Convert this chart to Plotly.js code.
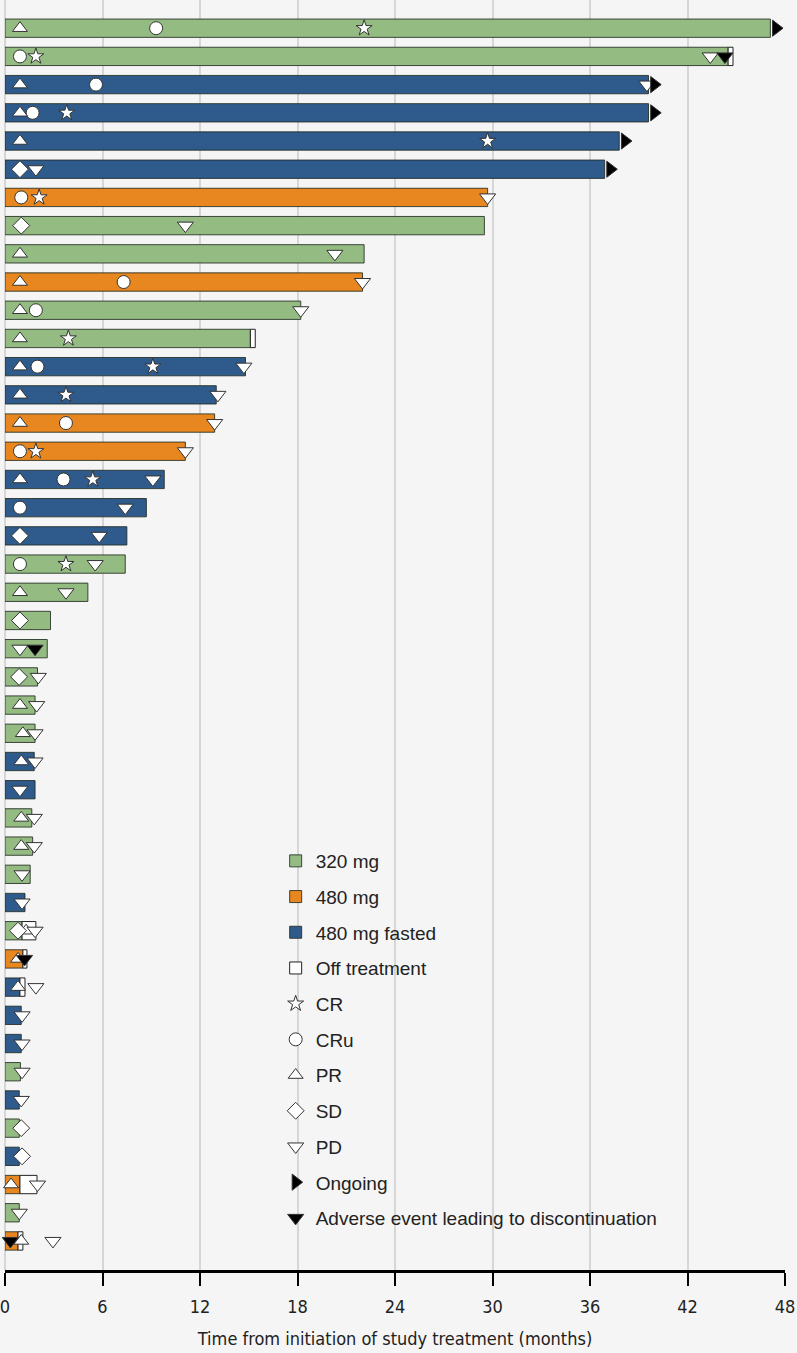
<!DOCTYPE html>
<html>
<head>
<meta charset="utf-8">
<script src="https://cdn.plot.ly/plotly-3.0.1.min.js"></script>
<style>html,body{margin:0;padding:0;background:#f5f5f5;}#chart{width:797px;height:1353px;}</style>
</head>
<body>
<div id="chart"></div>
<script>
// Patients (rows from top), dose group, time on treatment (months)
const rowIds = [1,2,3,4,5,6,7,8,9,10,11,12,13,14,15,16,17,18,19,20,21,22,23,24,25,26,27,28,29,30,31,32,33,34,35,36,37,38,39,40,41,42,43,44];
const doseGroup = ['320 mg','320 mg','480 mg fasted','480 mg fasted','480 mg fasted','480 mg fasted','480 mg','320 mg','320 mg','480 mg','320 mg','320 mg','480 mg fasted','480 mg fasted','480 mg','480 mg','480 mg fasted','480 mg fasted','480 mg fasted','320 mg','320 mg','320 mg','320 mg','320 mg','320 mg','320 mg','480 mg fasted','480 mg fasted','320 mg','320 mg','320 mg','480 mg fasted','320 mg','480 mg','480 mg fasted','480 mg fasted','480 mg fasted','320 mg','480 mg fasted','320 mg','480 mg fasted','480 mg','320 mg','480 mg'];
const onTreatment = [47.1,44.5,39.6,39.6,37.8,36.9,29.7,29.5,22.1,22.0,18.2,15.1,14.8,13.0,12.9,11.1,9.8,8.7,7.5,7.4,5.1,2.8,2.6,2.0,1.85,1.85,1.8,1.85,1.65,1.7,1.55,1.23,1.05,1.1,0.92,1.0,1.0,0.95,0.88,0.88,0.88,0.92,0.88,0.8];
// Off-treatment follow-up end (months), null if none
const offTreatmentEnd = [null,44.8,null,null,null,null,null,null,null,null,null,15.4,null,null,null,null,null,null,null,null,null,null,null,null,null,null,null,null,null,null,null,null,1.9,1.35,1.23,null,null,null,null,null,null,1.97,null,1.1];
const ongoingRows = [1,3,4,5,6];

// Response events
const crRow = [1,2,4,5,7,12,13,14,16,17,20];
const crMonth = [22.1,1.9,3.8,29.7,2.1,3.9,9.1,3.75,1.9,5.4,3.75];
const cruRow = [1,2,3,4,7,10,11,13,15,16,17,18,20];
const cruMonth = [9.3,0.92,5.6,1.7,1.0,7.3,1.9,2.0,3.75,0.92,3.6,0.92,0.92];
const prRow = [1,3,4,5,9,10,11,12,13,14,15,17,21,25,26,27,29,30,33,34,35,42,44];
const prMonth = [0.92,0.92,0.92,0.92,0.92,0.92,0.92,0.92,0.92,0.92,0.92,0.92,0.92,0.92,1.1,1.0,1.0,1.0,1.3,0.8,0.8,0.37,1.0];
const sdRow = [6,8,19,22,24,33,40,41];
const sdMonth = [0.92,1.0,0.92,0.92,0.87,0.8,1.0,1.05];
const pdRow = [2,3,6,7,8,9,10,11,13,14,15,16,17,18,19,20,21,23,24,25,26,27,28,29,30,31,32,33,35,36,37,38,39,42,43,44];
const pdMonth = [43.4,39.5,1.9,29.7,11.1,20.3,22.0,18.2,14.7,13.1,12.9,11.1,9.1,7.4,5.8,5.55,3.75,0.92,2.05,1.95,1.85,1.85,0.92,1.8,1.8,1.05,1.05,1.85,1.9,1.05,1.05,1.05,1.0,2.0,0.88,2.95];
const aeRow = [2,23,34,44];
const aeMonth = [44.3,1.85,1.2,0.33];

const groups = ['320 mg','480 mg','480 mg fasted'];
const groupColors = {'320 mg':'#93bb82','480 mg':'#e8861f','480 mg fasted':'#2e5a8c'};
const barLine = {color:'rgba(35,45,35,0.85)', width:1};
const barWidth = 0.65;

const traces = [];
groups.forEach(g => {
  const ys = [], xs = [];
  rowIds.forEach((r,i) => { if (doseGroup[i] === g) { ys.push(r); xs.push(onTreatment[i]); } });
  traces.push({type:'bar', orientation:'h', name:g, y:ys, x:xs, base:0, width:barWidth,
    marker:{color:groupColors[g], line:barLine}, legendgroup:g, hoverinfo:'skip'});
});
// Off treatment
{
  const ys=[], xs=[], bs=[];
  rowIds.forEach((r,i)=>{ if (offTreatmentEnd[i]!==null){ ys.push(r); bs.push(onTreatment[i]); xs.push(offTreatmentEnd[i]-onTreatment[i]); }});
  traces.push({type:'bar', orientation:'h', name:'Off treatment', y:ys, x:xs, base:bs, width:barWidth,
    marker:{color:'#ffffff', line:{color:'#222', width:1}}, legendgroup:'off', hoverinfo:'skip'});
}
const mline = {color:'#333', width:1};
function sc(name, xs, ys, symbol, size, fill){
  traces.push({type:'scatter', mode:'markers', name:name, x:xs, y:ys, legendgroup:name,
    marker:{symbol:symbol, size:size, color:fill, line:mline}, hoverinfo:'skip', cliponaxis:false});
}
sc('CR', crMonth, crRow, 'star', 12, '#ffffff');
sc('CRu', cruMonth, cruRow, 'circle', 13, '#ffffff');
sc('PR', prMonth, prRow, 'triangle-up', 13, '#ffffff');
sc('SD', sdMonth, sdRow, 'diamond', 13, '#ffffff');
sc('PD', pdMonth, pdRow, 'triangle-down', 14, '#ffffff');
const ongX = ongoingRows.map(r => onTreatment[rowIds.indexOf(r)] + 0.35);
sc('Ongoing', ongX, ongoingRows, 'triangle-right', 14, '#000000');
sc('Adverse event leading to discontinuation', aeMonth, aeRow, 'triangle-down', 14, '#000000');

const narrow = '"Liberation Sans Narrow", "DejaVu Sans Condensed", "Arial Narrow", sans-serif';
const layout = {
  width:797, height:1353,
  margin:{l:5, r:12, t:0, b:83},
  paper_bgcolor:'#f5f5f5', plot_bgcolor:'#f5f5f5',
  barmode:'overlay',
  showlegend:true,
  legend:{x:0.347, y:0.337, xanchor:'left', yanchor:'top', bgcolor:'rgba(0,0,0,0)',
    font:{family:'"Liberation Sans", Arial, sans-serif', size:19, color:'#222'},
    tracegroupgap:8, traceorder:'grouped', itemwidth:30},
  xaxis:{range:[0,48], tickvals:[0,6,12,18,24,30,36,42,48], ticktext:['0','6','12','18','24','30','36','42','48'],
    showgrid:true, gridcolor:'#d6d6d6', gridwidth:2, zeroline:true, zerolinecolor:'#d6d6d6', zerolinewidth:2,
    showline:true, linecolor:'#000', linewidth:2.5, ticks:'outside', ticklen:13, tickwidth:2, tickcolor:'#000',
    ticklabelstandoff:6, ticklabeloverflow:'allow',
    tickfont:{family:narrow, size:18, color:'#222'},
    title:{text:'Time from initiation of study treatment (months)', font:{family:narrow, size:18, color:'#222'}, standoff:17},
    fixedrange:true},
  yaxis:{range:[45.03, 0.0], showticklabels:false, showgrid:false, zeroline:false, showline:false, ticks:'', fixedrange:true}
};
Plotly.newPlot('chart', traces, layout, {displayModeBar:false, staticPlot:true});
</script>
</body>
</html>
